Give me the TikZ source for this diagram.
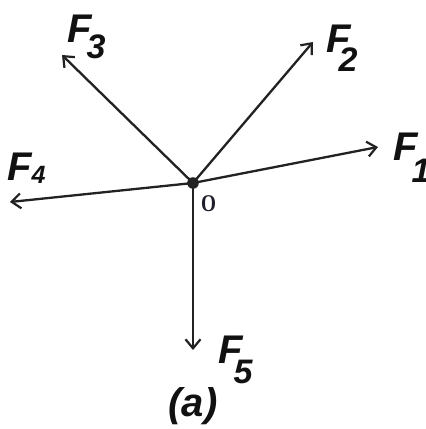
\documentclass[tikz,border=0pt]{standalone}
\usepackage{fontspec}
\setmainfont{Liberation Sans}
\newfontfamily\oserif{Liberation Serif}
\usetikzlibrary{arrows.meta, positioning}
\definecolor{fline}{HTML}{222222}
\definecolor{ftext}{HTML}{111111}
\definecolor{olabel}{HTML}{1E1E2A}
\tikzset{
  force/.style={-{Straight Barb[length=9pt,width=15pt,line width=2.2pt]},
                line width=2.3pt, fline},
  flabel/.style={anchor=base west, inner sep=0pt, text=ftext,
                 font=\fontsize{40}{40}\selectfont\bfseries\itshape},
  caplabel/.style={inner sep=0pt, text=ftext,
                   font=\fontsize{40}{40}\selectfont\bfseries\itshape},
}
% F with a lowered index: #1 index, #2 drop, #3 kern, #4 index size
\newcommand{\fsub}[4]{F\kern#3pt\raisebox{-#2pt}{\fontsize{#4}{#4}\selectfont #1}}

\begin{document}
\begin{tikzpicture}[x=1pt, y=1pt]
  \fill[white] (-193,-246) rectangle (233,183);
  \useasboundingbox (-193,-246) rectangle (233,183);

  %% ── point of application and tips ──
  \coordinate (O) at (0,0);
  \coordinate (t1) at (185,36);
  \coordinate (t2) at (120,141);
  \coordinate (t3) at (-131,128);
  \coordinate (t4) at (-183,-19);
  \coordinate (t5) at (0,-167);

  %% ── forces ──
  \foreach \t in {t1,t2,t3,t4,t5}{
    \draw[force] (O) -- (\t);
  }
  \fill[fline] (O) circle (5.8pt);

  %% ── labels ──
  \node[flabel] (l1) at (200,23)   {\fsub{1}{22}{-6}{34}};
  \node[flabel] (l2) at (133,131)  {\fsub{2}{19}{-12}{34}};
  \node[flabel] (l3) at (-126,141) {\fsub{3}{16}{-5}{34}};
  \node[flabel] (l4) at (-186,3)   {\fsub{4}{3}{0}{25}};
  \node[flabel] (l5) at (25,-180)  {\fsub{5}{20}{-9}{34}};
  \node[inner sep=0pt, text=olabel, font=\oserif\bfseries\fontsize{24}{24}\selectfont]
    (lO) at (15.5,-20.5) {\scalebox{0.8}[1]{O}};
  \node[caplabel] (cap) at (0,-223) {(a)};
\end{tikzpicture}
\end{document}
